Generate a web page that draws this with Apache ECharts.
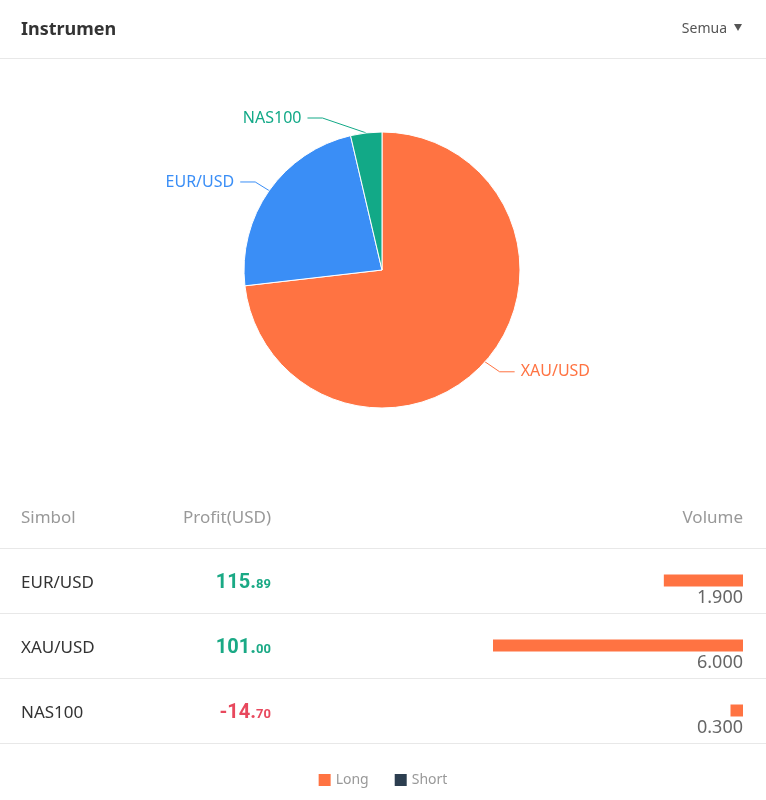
<!DOCTYPE html>
<html>
<head>
<meta charset="utf-8">
<script src="https://cdn.jsdelivr.net/npm/echarts@6/dist/echarts.min.js"></script>
<style>
html,body{margin:0;padding:0;background:#fff;}
#chart{width:766px;height:800px;}
</style>
</head>
<body>
<div id="chart"></div>
<script>
// ---- data ----
const title = 'Instrumen';
const filterLabel = 'Semua';
const tableHeaders = ['Simbol', 'Profit(USD)', 'Volume'];
const symbols = ['EUR/USD', 'XAU/USD', 'NAS100'];
const profits = [115.89, 101.00, -14.70];
const volumeLong = [1.9, 6.0, 0.3];
const volumeShort = [0, 0, 0];
const seriesNames = ['Long', 'Short'];

// ---- styles ----
const FONT = '"Noto Sans", "Open Sans", sans-serif';
const sliceColors = { 'XAU/USD': '#ff7342', 'EUR/USD': '#3a8ef6', 'NAS100': '#12a987' };
const LONG_COLOR = '#ff7342';
const SHORT_COLOR = '#2c3e50';
const PIE_CX = 382, PIE_CY = 270, PIE_R = 138, LL1 = 15, LL2 = 15;

const pieData = symbols
  .map((s, i) => ({ name: s, value: volumeLong[i] + volumeShort[i] }))
  .sort((a, b) => b.value - a.value)
  .map(d => ({
    name: d.name, value: d.value,
    itemStyle: { color: sliceColors[d.name] },
    label: { color: sliceColors[d.name] },
    labelLine: { lineStyle: { color: sliceColors[d.name] } }
  }));

const chart = echarts.init(document.getElementById('chart'), null, { renderer: 'canvas' });

const sepY = [58.5, 548.5, 613.5, 678.5, 743.5];

const option = {
  animation: false,
  backgroundColor: '#fff',
  textStyle: { fontFamily: FONT },
  graphic: [
    { type: 'text', x: 21, y: 29.5, style: { text: title, fontFamily: FONT, fontSize: 18, fontWeight: 'bold', fill: '#333', align: 'left', verticalAlign: 'middle' } },
    { type: 'text', x: 727, y: 29, style: { text: filterLabel, fontFamily: FONT, fontSize: 14, fill: '#555', align: 'right', verticalAlign: 'middle' } },
    { type: 'polygon', shape: { points: [[734, 24], [742, 24], [738, 31]] }, style: { fill: '#555' } },
    { type: 'text', x: 21, y: 518.5, style: { text: tableHeaders[0], fontFamily: FONT, fontSize: 17, fill: '#999', align: 'left', verticalAlign: 'middle' } },
    { type: 'text', x: 271, y: 518.5, style: { text: tableHeaders[1], fontFamily: FONT, fontSize: 17, fill: '#999', align: 'right', verticalAlign: 'middle' } },
    { type: 'text', x: 743, y: 518.5, style: { text: tableHeaders[2], fontFamily: FONT, fontSize: 17, fill: '#999', align: 'right', verticalAlign: 'middle' } }
  ].concat(sepY.map(y => ({
    type: 'line', shape: { x1: 0, y1: y, x2: 766, y2: y }, style: { stroke: '#e8e8e8', lineWidth: 1 }
  }))),
  legend: {
    data: seriesNames,
    top: 773,
    left: 'center',
    icon: 'rect',
    itemWidth: 12,
    itemHeight: 12,
    itemGap: 26,
    padding: 0,
    textStyle: { fontSize: 14, color: '#999', fontFamily: FONT }
  },
  grid: { left: 493, right: 23, top: 548, height: 195 },
  xAxis: {
    type: 'value', inverse: true, min: 0, max: Math.max.apply(null, volumeLong.map((v, i) => v + volumeShort[i])),
    show: false
  },
  yAxis: [
    {
      type: 'category', data: symbols, inverse: true, position: 'left',
      axisLine: { show: false }, axisTick: { show: false }, splitLine: { show: false },
      axisLabel: {
        margin: 472, align: 'left', interval: 0,
        formatter: v => '{s|' + v + '}',
        rich: { s: { fontSize: 17, color: '#333', fontFamily: FONT, padding: [6, 0, 0, 0] } }
      }
    },
    {
      type: 'category', data: profits.map(String), inverse: true, position: 'left',
      axisLine: { show: false }, axisTick: { show: false }, splitLine: { show: false },
      axisLabel: {
        margin: 222, align: 'right', interval: 0, padding: [4, 0, 0, 0],
        formatter: function (val) {
          const v = parseFloat(val);
          const s = v.toFixed(2).split('.');
          const k = v >= 0 ? 'p' : 'n';
          return '{' + k + 'I|' + s[0] + '.}{' + k + 'D|' + s[1] + '}';
        },
        rich: {
          pI: { fontFamily: 'Roboto', fontWeight: 'bold', fontSize: 20, color: '#1aa985', verticalAlign: 'bottom' },
          pD: { fontFamily: 'Roboto', fontWeight: 'bold', fontSize: 13, color: '#1aa985', verticalAlign: 'bottom', padding: [0, 0, 1, 0] },
          nI: { fontFamily: 'Roboto', fontWeight: 'bold', fontSize: 20, color: '#e8485d', verticalAlign: 'bottom' },
          nD: { fontFamily: 'Roboto', fontWeight: 'bold', fontSize: 13, color: '#e8485d', verticalAlign: 'bottom', padding: [0, 0, 1, 0] }
        }
      }
    }
  ],
  series: [
    {
      type: 'pie',
      center: [PIE_CX, PIE_CY],
      radius: PIE_R,
      startAngle: 90,
      clockwise: true,
      data: pieData,
      itemStyle: { borderColor: '#fff', borderWidth: 1 },
      label: { show: true, formatter: '{b}', fontSize: 16, fontFamily: FONT },
      labelLine: { show: true, length: LL1, length2: LL2 },
      emphasis: { disabled: true },
      labelLayout: function (params) {
        const pts = params.labelLinePoints;
        if (!pts) return {};
        const p0 = pts[0], p1 = pts[1];
        const dir = p1[0] < PIE_CX ? -1 : 1;
        const dy = Math.abs(p1[1] - PIE_CY);
        const R = PIE_R + LL1 + LL2 + 4;
        if (dy >= R) return {};
        const dx = Math.sqrt(R * R - dy * dy);
        const labelX = PIE_CX + dir * dx;
        const endX = labelX - dir * 6;
        const midX = endX - dir * LL2;
        return { x: labelX, labelLinePoints: [p0, [midX, p1[1]], [endX, p1[1]]] };
      }
    },
    {
      name: seriesNames[0], type: 'bar', stack: 'vol', data: volumeLong,
      barWidth: 12, itemStyle: { color: LONG_COLOR },
      label: {
        show: true, position: ['100%', '100%'], offset: [0, 11], align: 'right', verticalAlign: 'middle',
        fontSize: 18, color: '#666', fontFamily: FONT,
        formatter: p => (volumeLong[p.dataIndex] + volumeShort[p.dataIndex]).toFixed(3)
      },
      emphasis: { disabled: true }
    },
    {
      name: seriesNames[1], type: 'bar', stack: 'vol', data: volumeShort,
      barWidth: 12, itemStyle: { color: SHORT_COLOR },
      emphasis: { disabled: true }
    }
  ]
};
chart.setOption(option);
</script>
</body>
</html>
